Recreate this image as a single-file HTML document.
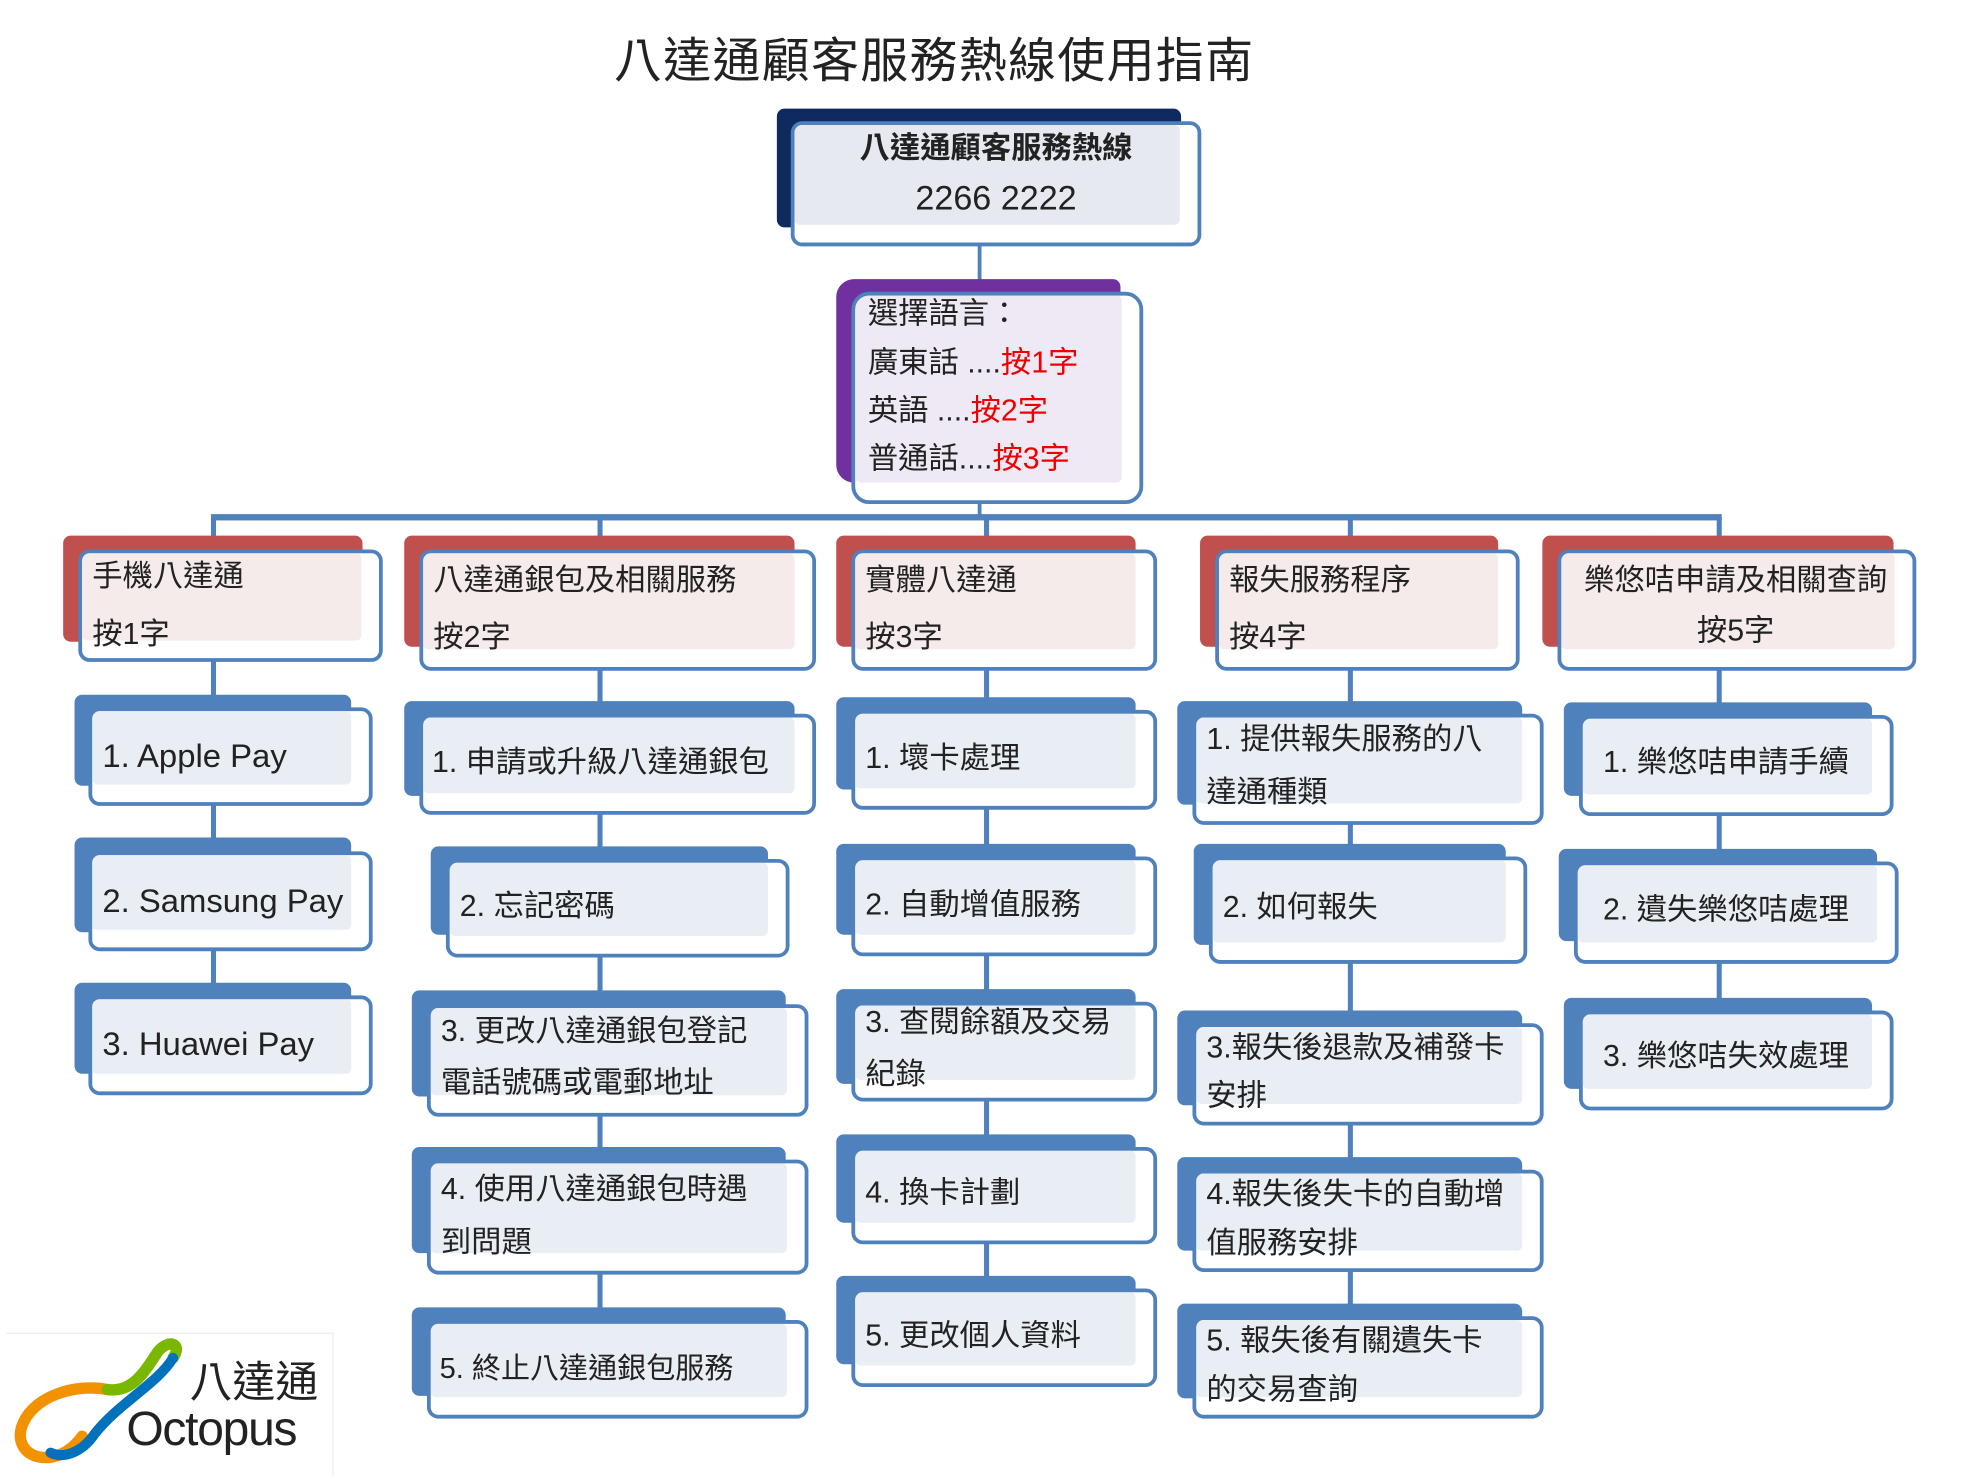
<!DOCTYPE html>
<html><head><meta charset="utf-8"><style>
html,body{margin:0;padding:0;background:#fff;}
#wrap{position:relative;width:1977px;height:1479px;overflow:hidden;background:#fff;}
#c{position:absolute;left:0;top:0;width:1570px;height:1175px;transform:scale(1.2632);transform-origin:0 0;font-family:"Liberation Sans","Noto Sans CJK TC",sans-serif;color:#222;}
.b{position:absolute;border-radius:6px;}
.f{position:absolute;border:3px solid #4F81BD;border-radius:9px;background:#fff;box-sizing:border-box;overflow:hidden;}
.f i{position:absolute;left:0;top:0;right:14px;bottom:14px;border-radius:4px;}
.t{position:absolute;font-size:24px;line-height:34px;white-space:nowrap;}
.v{position:absolute;width:3px;background:#4F81BD;}
.r{color:#e00;}
</style></head><body><div id="wrap"><div id="c">

<div class="t" style="left:486px;top:26px;font-size:38px;line-height:46px;letter-spacing:1px;">八達通顧客服務熱線使用指南</div>

<div class="v" style="left:774px;top:190px;height:40px;"></div>
<div class="v" style="left:774px;top:395px;height:16px;"></div>
<div style="position:absolute;left:167px;top:407px;width:1196px;height:5px;background:#4F81BD;"></div>
<div class="v" style="left:167px;top:410px;width:4px;height:450px;"></div>
<div class="v" style="left:473px;top:410px;width:4px;height:700px;"></div>
<div class="v" style="left:779px;top:410px;width:4px;height:680px;"></div>
<div class="v" style="left:1067px;top:410px;width:4px;height:700px;"></div>
<div class="v" style="left:1359px;top:410px;width:4px;height:460px;"></div>

<div class="b" style="left:615px;top:86px;width:320px;height:94px;background:#0F2A5E;"></div>
<div class="f" style="left:626px;top:96px;width:325px;height:99px;"><i style="background:#E6EAF0"></i></div>
<div class="t" style="left:626px;top:101px;width:325px;text-align:center;font-weight:bold;">八達通顧客服務熱線</div>
<div class="t" style="left:626px;top:140px;width:325px;text-align:center;font-size:27px;">2266 2222</div>

<div class="b" style="left:662px;top:221px;width:225px;height:161px;background:#7030A0;border-radius:14px 6px 6px 14px;"></div>
<div class="f" style="left:674px;top:231px;width:231px;height:168px;border-radius:14px;"><i style="background:#EEE9F4"></i></div>
<div class="t" style="left:687px;top:232px;">選擇語言：</div>
<div class="t" style="left:687px;top:271px;">廣東話 ....<span class="r">按1字</span></div>
<div class="t" style="left:687px;top:309px;">英語 ....<span class="r">按2字</span></div>
<div class="t" style="left:687px;top:347px;">普通話....<span class="r">按3字</span></div>

<div class="b" style="left:50px;top:424px;width:237px;height:84px;background:#C0504D;"></div>
<div class="f" style="left:62px;top:435px;width:241px;height:89px;"><i style="background:#F5EBEA"></i></div>
<div class="t" style="left:73px;top:440px;">手機八達通</div>
<div class="t" style="left:73px;top:486px;">按1字</div>

<div class="b" style="left:320px;top:424px;width:309px;height:88px;background:#C0504D;"></div>
<div class="f" style="left:332px;top:435px;width:314px;height:96px;"><i style="background:#F5EBEA"></i></div>
<div class="t" style="left:343px;top:443px;">八達通銀包及相關服務</div>
<div class="t" style="left:343px;top:488px;">按2字</div>

<div class="b" style="left:662px;top:424px;width:237px;height:88px;background:#C0504D;"></div>
<div class="f" style="left:674px;top:435px;width:242px;height:96px;"><i style="background:#F5EBEA"></i></div>
<div class="t" style="left:685px;top:443px;">實體八達通</div>
<div class="t" style="left:685px;top:488px;">按3字</div>

<div class="b" style="left:950px;top:424px;width:236px;height:88px;background:#C0504D;"></div>
<div class="f" style="left:962px;top:435px;width:241px;height:96px;"><i style="background:#F5EBEA"></i></div>
<div class="t" style="left:973px;top:443px;">報失服務程序</div>
<div class="t" style="left:973px;top:488px;">按4字</div>

<div class="b" style="left:1221px;top:424px;width:278px;height:88px;background:#C0504D;"></div>
<div class="f" style="left:1233px;top:435px;width:284px;height:96px;"><i style="background:#F5EBEA"></i></div>
<div class="t" style="left:1233px;top:443px;width:282px;text-align:center;">樂悠咭申請及相關查詢</div>
<div class="t" style="left:1233px;top:483px;width:282px;text-align:center;">按5字</div>

<div class="b" style="left:59px;top:550px;width:219px;height:72px;background:#4F81BD;"></div>
<div class="f" style="left:70px;top:560px;width:225px;height:78px;"><i style="background:#E9EDF4"></i></div>
<div class="t" style="left:81px;top:581px;font-size:26px;">1. Apple Pay</div>
<div class="b" style="left:59px;top:663px;width:219px;height:75px;background:#4F81BD;"></div>
<div class="f" style="left:70px;top:674px;width:225px;height:79px;"><i style="background:#E9EDF4"></i></div>
<div class="t" style="left:81px;top:696px;font-size:26px;">2. Samsung Pay</div>
<div class="b" style="left:59px;top:778px;width:219px;height:72px;background:#4F81BD;"></div>
<div class="f" style="left:70px;top:788px;width:225px;height:79px;"><i style="background:#E9EDF4"></i></div>
<div class="t" style="left:81px;top:809px;font-size:26px;">3. Huawei Pay</div>

<div class="b" style="left:320px;top:555px;width:309px;height:75px;background:#4F81BD;"></div>
<div class="f" style="left:332px;top:565px;width:314px;height:80px;"><i style="background:#E9EDF4"></i></div>
<div class="t" style="left:342px;top:587px;">1. 申請或升級八達通銀包</div>
<div class="b" style="left:341px;top:670px;width:267px;height:70px;background:#4F81BD;"></div>
<div class="f" style="left:353px;top:680px;width:272px;height:78px;"><i style="background:#E9EDF4"></i></div>
<div class="t" style="left:364px;top:701px;">2. 忘記密碼</div>
<div class="b" style="left:326px;top:784px;width:296px;height:84px;background:#4F81BD;"></div>
<div class="f" style="left:338px;top:795px;width:302px;height:89px;"><i style="background:#E9EDF4"></i></div>
<div class="t" style="left:349px;top:800px;">3. 更改八達通銀包登記</div>
<div class="t" style="left:349px;top:841px;">電話號碼或電郵地址</div>
<div class="b" style="left:326px;top:908px;width:296px;height:84px;background:#4F81BD;"></div>
<div class="f" style="left:338px;top:918px;width:302px;height:91px;"><i style="background:#E9EDF4"></i></div>
<div class="t" style="left:349px;top:925px;">4. 使用八達通銀包時遇</div>
<div class="t" style="left:349px;top:967px;">到問題</div>
<div class="b" style="left:326px;top:1035px;width:296px;height:70px;background:#4F81BD;"></div>
<div class="f" style="left:338px;top:1045px;width:302px;height:78px;"><i style="background:#E9EDF4"></i></div>
<div class="t" style="left:348px;top:1066px;font-size:23px;">5. 終止八達通銀包服務</div>

<div class="b" style="left:662px;top:552px;width:237px;height:73px;background:#4F81BD;"></div>
<div class="f" style="left:674px;top:562px;width:242px;height:79px;"><i style="background:#E9EDF4"></i></div>
<div class="t" style="left:685px;top:584px;">1. 壞卡處理</div>
<div class="b" style="left:662px;top:668px;width:237px;height:72px;background:#4F81BD;"></div>
<div class="f" style="left:674px;top:678px;width:242px;height:79px;"><i style="background:#E9EDF4"></i></div>
<div class="t" style="left:685px;top:700px;">2. 自動增值服務</div>
<div class="b" style="left:662px;top:783px;width:237px;height:75px;background:#4F81BD;"></div>
<div class="f" style="left:674px;top:793px;width:242px;height:79px;"><i style="background:#E9EDF4"></i></div>
<div class="t" style="left:685px;top:793px;">3. 查閱餘額及交易</div>
<div class="t" style="left:685px;top:834px;">紀錄</div>
<div class="b" style="left:662px;top:898px;width:237px;height:70px;background:#4F81BD;"></div>
<div class="f" style="left:674px;top:908px;width:242px;height:77px;"><i style="background:#E9EDF4"></i></div>
<div class="t" style="left:685px;top:928px;">4. 換卡計劃</div>
<div class="b" style="left:662px;top:1010px;width:237px;height:70px;background:#4F81BD;"></div>
<div class="f" style="left:674px;top:1020px;width:242px;height:78px;"><i style="background:#E9EDF4"></i></div>
<div class="t" style="left:685px;top:1041px;">5. 更改個人資料</div>

<div class="b" style="left:932px;top:555px;width:273px;height:82px;background:#4F81BD;"></div>
<div class="f" style="left:944px;top:565px;width:278px;height:88px;"><i style="background:#E9EDF4"></i></div>
<div class="t" style="left:955px;top:569px;">1. 提供報失服務的八</div>
<div class="t" style="left:955px;top:611px;">達通種類</div>
<div class="b" style="left:945px;top:668px;width:247px;height:80px;background:#4F81BD;"></div>
<div class="f" style="left:957px;top:678px;width:252px;height:85px;"><i style="background:#E9EDF4"></i></div>
<div class="t" style="left:968px;top:702px;">2. 如何報失</div>
<div class="b" style="left:932px;top:800px;width:273px;height:75px;background:#4F81BD;"></div>
<div class="f" style="left:944px;top:810px;width:278px;height:81px;"><i style="background:#E9EDF4"></i></div>
<div class="t" style="left:955px;top:813px;">3.報失後退款及補發卡</div>
<div class="t" style="left:955px;top:851px;">安排</div>
<div class="b" style="left:932px;top:916px;width:273px;height:74px;background:#4F81BD;"></div>
<div class="f" style="left:944px;top:926px;width:278px;height:81px;"><i style="background:#E9EDF4"></i></div>
<div class="t" style="left:955px;top:929px;">4.報失後失卡的自動增</div>
<div class="t" style="left:955px;top:968px;">值服務安排</div>
<div class="b" style="left:932px;top:1032px;width:273px;height:75px;background:#4F81BD;"></div>
<div class="f" style="left:944px;top:1042px;width:278px;height:81px;"><i style="background:#E9EDF4"></i></div>
<div class="t" style="left:955px;top:1045px;">5. 報失後有關遺失卡</div>
<div class="t" style="left:955px;top:1084px;">的交易查詢</div>

<div class="b" style="left:1238px;top:556px;width:244px;height:74px;background:#4F81BD;"></div>
<div class="f" style="left:1250px;top:566px;width:249px;height:80px;"><i style="background:#E9EDF4"></i></div>
<div class="t" style="left:1269px;top:587px;">1. 樂悠咭申請手續</div>
<div class="b" style="left:1234px;top:672px;width:252px;height:73px;background:#4F81BD;"></div>
<div class="f" style="left:1246px;top:682px;width:257px;height:81px;"><i style="background:#E9EDF4"></i></div>
<div class="t" style="left:1269px;top:704px;">2. 遺失樂悠咭處理</div>
<div class="b" style="left:1238px;top:790px;width:244px;height:72px;background:#4F81BD;"></div>
<div class="f" style="left:1250px;top:800px;width:249px;height:79px;"><i style="background:#E9EDF4"></i></div>
<div class="t" style="left:1269px;top:820px;">3. 樂悠咭失效處理</div>

<div style="position:absolute;left:5px;top:1055px;width:258px;height:112px;border-top:1px solid #eee;border-right:1px solid #eee;"></div>
<svg style="position:absolute;left:5px;top:1055px;" width="160" height="112" viewBox="0 0 160 112">
<path d="M60 82 C40 110 5 100 12 75 C20 50 55 40 80 45" fill="none" stroke="#F39200" stroke-width="9" stroke-linecap="round"/>
<path d="M80 45 C100 48 110 30 120 15 C128 5 140 8 132 20" fill="none" stroke="#7AB800" stroke-width="9" stroke-linecap="round"/>
<path d="M132 20 C120 40 90 55 70 80 C60 95 45 100 35 95" fill="none" stroke="#0072BC" stroke-width="8" stroke-linecap="round"/>
</svg>
<div class="t" style="left:150px;top:1074px;font-size:34px;line-height:42px;">八達通</div>
<div class="t" style="left:100px;top:1110px;font-size:38px;line-height:44px;letter-spacing:-1px;">Octopus</div>

</div></div></body></html>
